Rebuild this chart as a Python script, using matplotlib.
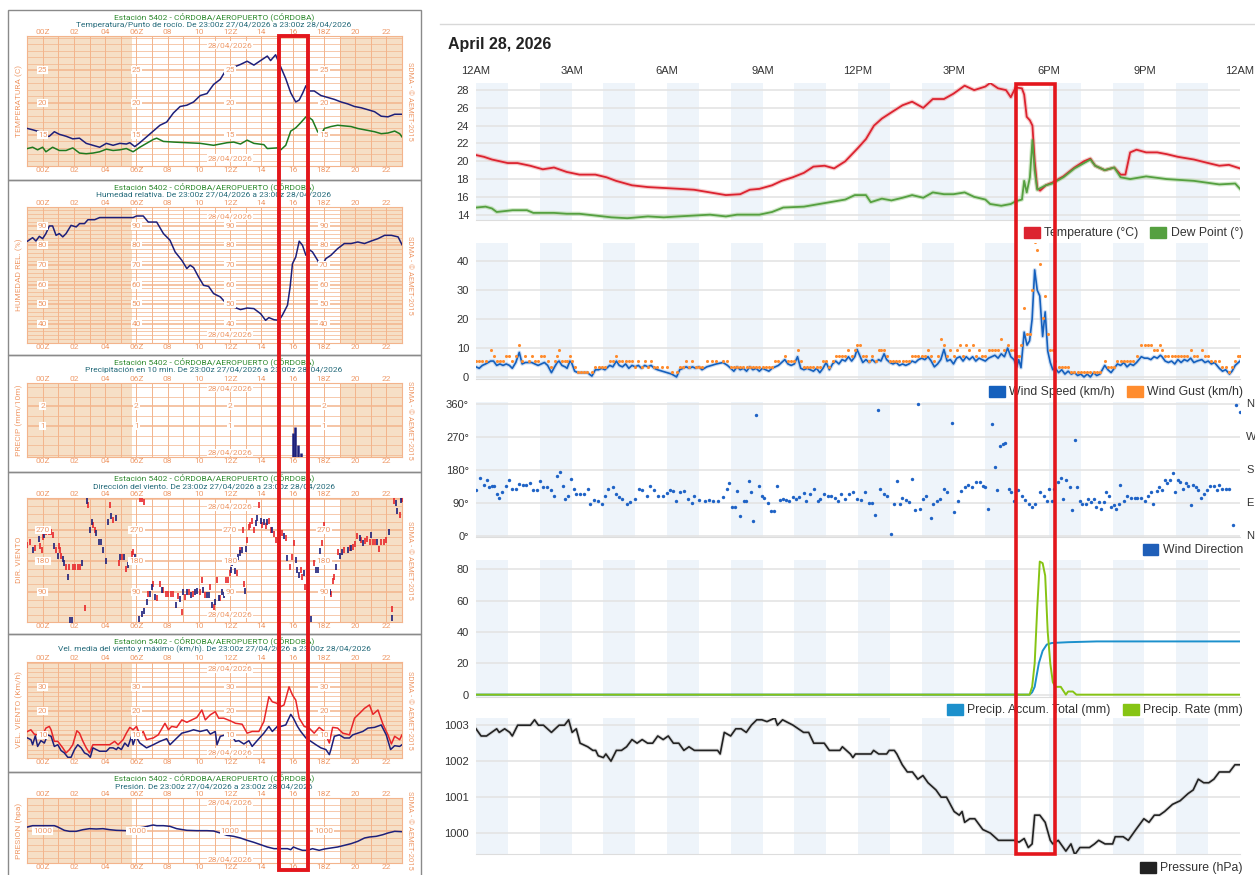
import matplotlib
matplotlib.use("Agg")
import matplotlib.pyplot as plt
import matplotlib.font_manager as fm
from matplotlib.patches import Rectangle, Patch

avail = {f.name for f in fm.fontManager.ttflist}
NARROW = "Liberation Sans Narrow" if "Liberation Sans Narrow" in avail else "Roboto"
SANS = "Liberation Sans"
plt.rcParams["font.family"] = [SANS, "DejaVu Sans"]

# ===================== DATA: right side (local time, hours) =====================
TEMP_T = [0.00, 0.25, 0.50, 0.75, 1.00, 1.30, 1.70, 2.10, 2.45, 2.85, 3.25, 3.75, 4.10, 4.40, 4.90,
          5.40, 5.90, 6.40, 6.85, 7.35, 7.85, 8.30, 8.60, 8.90, 9.30, 9.60, 9.95, 10.30, 10.60, 10.95,
          11.25, 11.60, 12.00, 12.25, 12.50, 12.75, 13.05, 13.40, 13.70, 14.05, 14.35, 14.70, 15.00,
          15.35, 15.65, 16.00, 16.15, 16.40, 16.65, 16.80, 16.95, 17.15, 17.22, 17.30, 17.40, 17.48,
          17.55, 17.63, 17.72, 17.90, 18.10, 18.45, 18.80, 19.10, 19.30, 19.45, 19.75, 20.05, 20.25,
          20.40, 20.55, 20.75, 21.05, 21.40, 21.70, 22.05, 22.55, 23.00, 23.35, 23.65, 24.00]
TEMP_V = [20.7, 20.5, 20.2, 20.0, 19.8, 19.8, 19.5, 19.1, 19.3, 18.8, 18.5, 18.5, 18.2, 17.8, 17.3,
          17.1, 17.0, 16.9, 16.8, 16.5, 16.2, 16.3, 16.8, 16.9, 17.3, 17.8, 18.2, 18.7, 19.4, 19.5,
          19.2, 20.0, 21.5, 22.5, 24.0, 24.8, 25.5, 26.3, 26.7, 26.0, 27.0, 27.0, 27.6,
          28.5, 28.0, 28.4, 28.8, 28.2, 28.0, 27.2, 28.3, 28.2, 27.5, 25.0, 24.6, 24.0,
          20.0, 17.0, 16.7, 17.3, 17.6, 18.3, 19.3, 20.0, 20.3, 19.5, 19.0, 19.3, 18.5,
          18.5, 21.0, 21.3, 21.0, 21.0, 20.8, 20.5, 20.2, 19.8, 19.5, 19.6, 19.2]

DEW_T = [0.00, 0.30, 0.50, 0.65, 1.15, 1.60, 1.80, 2.45, 2.85, 3.25, 3.75, 4.25, 4.75, 5.40, 5.90,
         6.35, 6.85, 7.35, 7.85, 8.20, 8.90, 9.30, 9.65, 10.30, 10.95, 11.60, 11.90, 12.25, 12.40,
         12.75, 13.05, 13.40, 13.70, 14.05, 14.35, 14.70, 15.00, 15.35, 15.65, 16.00, 16.15, 16.50,
         16.80, 16.95, 17.15, 17.22, 17.30, 17.40, 17.48, 17.55, 17.63, 17.90, 18.10, 18.45, 18.80,
         19.10, 19.30, 19.45, 19.75, 20.05, 20.25, 20.55, 21.05, 21.70, 22.55, 23.35, 23.85, 24.00]
DEW_V = [14.8, 14.9, 14.7, 14.3, 14.5, 14.5, 14.2, 14.2, 14.1, 14.1, 13.9, 13.7, 13.6, 13.8, 13.7,
         13.8, 13.9, 14.0, 13.8, 14.0, 14.0, 14.3, 14.8, 14.9, 15.3, 15.7, 16.2, 16.2, 15.4,
         15.8, 15.6, 15.9, 16.2, 15.9, 16.5, 16.3, 16.3, 16.5, 16.0, 15.7, 15.2, 15.0,
         15.2, 15.5, 15.7, 17.8, 16.5, 18.2, 22.4, 19.0, 16.8, 17.3, 17.5, 18.2, 19.2,
         19.8, 20.2, 19.5, 19.0, 19.3, 18.2, 18.0, 18.3, 18.0, 17.8, 17.4, 17.5, 16.9]

WIND_T = [0.00, 0.10, 0.20, 0.30, 0.46, 0.55, 0.65, 0.75, 0.85, 0.95, 1.05, 1.14, 1.25, 1.36, 1.45,
          1.55, 1.65, 1.75, 1.85, 1.95, 2.05, 2.15, 2.25, 2.37, 2.47, 2.55, 2.61, 2.70, 2.80, 2.86,
          2.95, 3.00, 3.10, 3.20, 3.30, 3.40, 3.50, 3.64, 3.75, 3.85, 3.95, 4.05, 4.20, 4.30, 4.41,
          4.50, 4.60, 4.70, 4.80, 4.90, 5.00, 5.10, 5.20, 5.30, 5.40, 5.50, 5.60, 5.70, 5.85, 6.00,
          6.15, 6.30, 6.40, 6.50, 6.60, 6.70, 6.80, 6.90, 7.00, 7.10, 7.25, 7.40, 7.55, 7.76, 7.90,
          8.00, 8.10, 8.20, 8.30, 8.40, 8.50, 8.60, 8.70, 8.80, 8.90, 9.00, 9.10, 9.20, 9.30, 9.40,
          9.50, 9.70, 9.80, 9.90, 10.00, 10.10, 10.20, 10.30, 10.40, 10.50, 10.60, 10.70, 10.80,
          10.90, 11.00, 11.10, 11.20, 11.30, 11.40, 11.50, 11.60, 11.70, 11.80, 11.90, 11.97, 12.05,
          12.15, 12.25, 12.35, 12.45, 12.55, 12.65, 12.72, 12.82, 12.90, 13.00, 13.10, 13.20, 13.30,
          13.40, 13.50, 13.60, 13.70, 13.80, 13.90, 14.00, 14.10, 14.20, 14.30, 14.40, 14.50, 14.60,
          14.70, 14.80, 14.90, 15.00, 15.10, 15.20, 15.30, 15.40, 15.50, 15.60, 15.70, 15.80, 15.90,
          16.00, 16.10, 16.20, 16.30, 16.40, 16.50, 16.60, 16.70, 16.80, 16.90, 16.99, 17.05, 17.12,
          17.22, 17.31, 17.39, 17.47, 17.55, 17.63, 17.71, 17.80, 17.88, 17.96, 18.04, 18.12, 18.20,
          18.30, 18.40, 18.50, 18.60, 18.70, 18.80, 18.90, 19.00, 19.10, 19.20, 19.30, 19.40, 19.50,
          19.60, 19.75, 19.85, 19.95, 20.05, 20.15, 20.25, 20.35, 20.45, 20.55, 20.65, 20.75, 20.90,
          21.00, 21.10, 21.20, 21.30, 21.40, 21.50, 21.55, 21.65, 21.75, 21.85, 21.95, 22.05, 22.15,
          22.25, 22.35, 22.45, 22.55, 22.65, 22.80, 22.90, 23.00, 23.10, 23.20, 23.35, 23.45, 23.55,
          23.67, 23.75, 23.85, 23.95, 24.00]
WIND_V = [3.5, 3.0, 4.0, 4.5, 5.5, 5.5, 4.0, 4.5, 4.0, 4.5, 4.0, 3.0, 5.0, 8.5, 4.5,
          5.0, 5.0, 5.0, 4.5, 4.0, 4.5, 5.0, 4.0, 1.5, 3.5, 5.0, 5.5, 4.0, 3.5, 3.0,
          5.5, 5.0, 2.0, 1.5, 1.5, 1.5, 1.5, 0.3, 2.5, 2.5, 3.0, 2.5, 4.0, 3.5, 5.5,
          4.0, 3.5, 4.5, 3.0, 4.0, 3.5, 4.0, 3.0, 4.0, 3.5, 4.0, 3.0, 2.5, 2.0, 1.5,
          1.0, 0.0, 2.5, 3.0, 3.5, 3.0, 3.5, 3.0, 3.5, 2.5, 3.5, 4.0, 4.5, 5.0, 4.0,
          3.0, 2.0, 3.5, 2.5, 3.0, 2.0, 3.5, 2.5, 3.0, 2.0, 3.0, 2.5, 2.0, 3.0, 3.5,
          4.0, 6.0, 4.5, 4.0, 4.5, 7.0, 3.0, 2.5, 3.0, 2.5, 2.0, 3.0, 1.5,
          3.0, 5.0, 2.5, 4.5, 5.5, 4.5, 6.0, 5.5, 7.0, 5.5, 7.0, 9.5, 7.5,
          5.0, 6.0, 5.0, 6.0, 5.0, 6.0, 5.5, 8.0, 6.0, 5.0, 4.5, 5.0, 4.0,
          4.5, 4.0, 4.5, 5.5, 5.0, 6.0, 6.5, 6.0, 7.0, 5.5, 3.5, 4.5, 6.0,
          9.5, 5.5, 6.0, 4.5, 6.5, 7.0, 5.5, 7.0, 6.0, 7.0, 5.5, 6.5, 6.0,
          5.5, 6.5, 7.0, 7.5, 6.5, 8.0, 7.0, 10.0, 7.0, 6.0, 3.5, 6.0, 3.2,
          15.5, 11.0, 12.5, 20.0, 37.0, 30.0, 28.0, 14.0, 22.5, 9.0, 5.0, 2.5, 3.0,
          1.5, 2.5, 1.0, 2.0, 1.0, 1.5, 0.5, 1.0, 0.0, 1.0, 0.0, 1.5, 0.5,
          1.0, 4.0, 2.5, 1.5, 3.0, 4.5, 4.0, 5.0, 3.5, 4.5, 4.0, 5.0, 7.0,
          6.5, 6.5, 6.0, 7.0, 6.5, 7.5, 7.0, 5.5, 5.0, 5.5, 4.5, 6.0, 5.0,
          6.0, 5.5, 6.5, 5.0, 5.5, 6.0, 5.0, 5.5, 4.5, 5.0, 3.0, 2.0, 2.5,
          1.0, 2.0, 4.0, 5.0, 5.5]
GUST_V = [5.5, 5.5, 5.5, 5.5, 9.4, 7.4, 5.5, 5.5, 5.5, 7.4, 7.4, 5.5, 7.4, 11.2, 5.5,
          7.4, 5.5, 7.4, 5.5, 5.5, 7.4, 7.4, 5.5, 3.6, 5.5, 7.4, 9.4, 5.5, 5.5, 5.5,
          7.4, 5.5, 3.6, 1.8, 1.8, 1.8, 1.8, 1.8, 3.6, 3.6, 3.6, 3.6, 5.5, 5.5, 7.4,
          5.5, 5.5, 5.5, 5.5, 5.5, 3.6, 5.5, 3.6, 5.5, 3.6, 5.5, 3.6, 3.6, 3.6, 3.6,
          1.8, 1.8, 3.6, 3.6, 5.5, 3.6, 5.5, 3.6, 3.6, 3.6, 5.5, 5.5, 5.5, 5.5, 5.5,
          3.6, 3.6, 3.6, 3.6, 3.6, 3.6, 3.6, 3.6, 3.6, 3.6, 3.6, 3.6, 3.6, 3.6, 5.5,
          5.5, 7.4, 5.5, 5.5, 5.5, 9.4, 5.5, 3.6, 3.6, 3.6, 3.6, 3.6, 3.6,
          5.5, 5.5, 3.6, 5.5, 7.4, 7.4, 7.4, 7.4, 9.4, 7.4, 9.4, 11.2, 11.2,
          7.4, 7.4, 5.5, 7.4, 5.5, 9.4, 9.4, 9.4, 7.4, 5.5, 5.5, 5.5, 5.5,
          5.5, 5.5, 5.5, 7.4, 7.4, 7.4, 7.4, 7.4, 9.4, 7.4, 5.5, 7.4, 13.0,
          11.2, 7.4, 9.4, 7.4, 9.4, 11.2, 7.4, 11.2, 9.4, 11.2, 7.4, 9.4, 7.4,
          7.4, 9.4, 9.4, 9.4, 9.4, 13.0, 9.4, 11.2, 9.4, 9.4, 7.4, 7.4, 11.2,
          24.0, 15.0, 15.0, 30.0, 46.5, 44.0, 39.0, 20.5, 28.0, 15.0, 9.4, 9.4, 5.5,
          3.6, 3.6, 3.6, 3.6, 1.8, 1.8, 1.8, 1.8, 1.8, 1.8, 1.8, 1.8, 1.8,
          1.8, 5.5, 3.6, 3.6, 3.6, 5.5, 5.5, 5.5, 5.5, 5.5, 5.5, 7.4, 11.2,
          11.2, 11.2, 11.2, 9.4, 9.4, 11.2, 9.4, 7.4, 7.4, 7.4, 7.4, 7.4, 7.4,
          7.4, 7.4, 9.4, 7.4, 7.4, 9.4, 7.4, 7.4, 5.5, 5.5, 5.5, 3.6, 3.6,
          1.8, 3.6, 5.5, 7.4, 7.4]

WDIR_T = [0.00, 0.13, 0.24, 0.33, 0.41, 0.49, 0.57, 0.65, 0.73, 0.82, 0.93, 1.03, 1.14, 1.26, 1.36,
          1.47, 1.58, 1.71, 1.80, 1.93, 2.01, 2.12, 2.24, 2.37, 2.45, 2.53, 2.64, 2.73, 2.81, 2.89,
          2.97, 3.07, 3.15, 3.27, 3.40, 3.51, 3.59, 3.72, 3.84, 3.95, 4.05, 4.16, 4.29, 4.41, 4.49,
          4.60, 4.73, 4.85, 4.98, 5.11, 5.22, 5.36, 5.47, 5.58, 5.71, 5.88, 6.00, 6.09, 6.20, 6.29,
          6.40, 6.53, 6.66, 6.78, 6.86, 7.02, 7.18, 7.31, 7.45, 7.59, 7.76, 7.87, 7.95, 8.05, 8.13,
          8.21, 8.29, 8.41, 8.49, 8.57, 8.65, 8.70, 8.80, 8.88, 8.98, 9.06, 9.17, 9.27, 9.36, 9.47,
          9.55, 9.63, 9.75, 9.84, 9.96, 10.06, 10.16, 10.29, 10.38, 10.48, 10.61, 10.73, 10.82, 10.94,
          11.05, 11.15, 11.27, 11.36, 11.48, 11.59, 11.71, 11.84, 11.97, 12.08, 12.21, 12.33, 12.44,
          12.54, 12.62, 12.70, 12.82, 12.90, 13.03, 13.14, 13.22, 13.31, 13.39, 13.50, 13.60, 13.71,
          13.80, 13.88, 13.96, 14.04, 14.15, 14.29, 14.37, 14.48, 14.58, 14.69, 14.81, 14.94, 15.02,
          15.14, 15.23, 15.35, 15.46, 15.59, 15.71, 15.84, 15.92, 16.00, 16.08, 16.20, 16.29, 16.38,
          16.46, 16.54, 16.62, 16.73, 16.82, 16.90, 17.03, 17.14, 17.26, 17.36, 17.47, 17.55, 17.71,
          17.83, 17.93, 17.99, 18.09, 18.17, 18.29, 18.37, 18.45, 18.53, 18.65, 18.73, 18.81, 18.89,
          18.97, 19.05, 19.15, 19.23, 19.31, 19.40, 19.48, 19.56, 19.64, 19.72, 19.80, 19.89, 19.95,
          20.03, 20.11, 20.20, 20.24, 20.37, 20.46, 20.57, 20.69, 20.78, 20.90, 21.01, 21.11, 21.19,
          21.27, 21.39, 21.47, 21.55, 21.63, 21.71, 21.80, 21.88, 21.96, 22.04, 22.12, 22.20, 22.29,
          22.37, 22.45, 22.53, 22.61, 22.69, 22.78, 22.86, 22.97, 23.07, 23.18, 23.27, 23.35, 23.43,
          23.55, 23.67, 23.79, 23.89, 24.00]
WDIR_V = [125, 159, 140, 152, 133, 135, 135, 115, 104, 120, 135, 152, 127, 127, 141,
          138, 140, 143, 125, 125, 150, 133, 133, 125, 109, 163, 173, 135, 101, 110,
          154, 129, 115, 113, 113, 128, 88, 98, 96, 88, 109, 129, 133, 115, 106,
          101, 88, 92, 101, 129, 125, 109, 135, 125, 109, 109, 118, 125, 122, 95,
          120, 122, 101, 89, 109, 98, 96, 98, 96, 96, 106, 129, 144, 80, 80,
          123, 54, 96, 96, 150, 120, 41, 328, 137, 109, 104, 89, 68, 68, 135,
          98, 101, 98, 94, 106, 101, 106, 118, 96, 113, 129, 96, 101, 113,
          109, 109, 104, 94, 113, 101, 115, 120, 101, 98, 120, 89, 89,
          56, 344, 127, 113, 109, 6, 86, 149, 88, 104, 98, 92, 156,
          72, 360, 74, 101, 110, 48, 88, 96, 101, 129, 120, 307, 64,
          96, 123, 133, 138, 133, 147, 147, 135, 133, 74, 304, 189, 125,
          244, 251, 253, 127, 120, 96, 125, 109, 98, 88, 80, 88, 120,
          110, 96, 127, 94, 127, 147, 159, 101, 152, 133, 70, 262, 133,
          96, 86, 86, 101, 92, 101, 79, 92, 74, 92, 120, 109, 79,
          83, 74, 88, 140, 96, 109, 104, 104, 104, 104, 96, 109, 120,
          88, 122, 133, 125, 152, 143, 152, 172, 120, 152, 147, 129, 143,
          135, 85, 138, 133, 125, 104, 115, 125, 136, 135, 125, 138, 127,
          127, 127, 29, 356, 338]

PACC_T = [0.0, 17.39, 17.47, 17.55, 17.68, 17.80, 17.93, 18.09, 18.60, 19.50, 24.0]
PACC_V = [0.0, 0.0, 1.5, 5.0, 20.0, 28.0, 32.0, 33.0, 33.5, 34.0, 34.0]
PRATE_T = [0.0, 17.39, 17.47, 17.55, 17.63, 17.71, 17.80, 17.88, 17.96, 18.04, 18.12, 18.20,
           18.37, 18.53, 18.60, 18.75, 18.86, 24.0]
PRATE_V = [0.0, 0.0, 5.0, 20.0, 55.0, 85.0, 84.0, 76.0, 40.0, 20.0, 8.0, 5.0,
           5.0, 0.0, 2.0, 2.0, 0.0, 0.0]

PRES_T = [0.00, 0.16, 0.33, 0.49, 0.65, 0.73, 0.90, 1.06, 1.14, 1.31, 1.71, 1.84, 1.96, 2.12, 2.37,
          2.61, 2.78, 2.91, 3.02, 3.15, 3.27, 3.51, 3.67, 3.76, 3.84, 4.00, 4.08, 4.24, 4.41, 4.57,
          4.73, 4.90, 5.06, 5.22, 5.39, 5.55, 5.71, 5.88, 6.04, 6.20, 6.37, 6.53, 6.69, 6.86, 7.02,
          7.35, 7.59, 7.67, 7.80, 8.00, 8.16, 8.33, 8.49, 8.65, 8.82, 8.98, 9.14, 9.39, 9.47, 9.63,
          9.96, 10.29, 10.45, 10.61, 10.94, 11.10, 11.43, 11.51, 11.76, 11.84, 11.92, 12.41, 12.49,
          12.65, 12.90, 12.98, 13.14, 13.22, 13.39, 13.55, 13.71, 13.88, 14.04, 14.20, 14.45, 14.61,
          14.78, 15.02, 15.18, 15.27, 15.35, 15.51, 15.67, 15.92, 16.16, 16.41, 16.90, 17.06, 17.22,
          17.35, 17.47, 17.55, 17.71, 17.88, 18.04, 18.12, 18.29, 18.45, 18.53, 18.69, 18.81, 18.97,
          19.27, 19.43, 19.56, 19.76, 20.00, 20.08, 20.33, 20.49, 20.73, 20.98, 21.14, 21.31, 21.47,
          21.63, 21.88, 22.12, 22.37, 22.53, 22.69, 22.86, 23.02, 23.18, 23.35, 23.67, 23.84, 24.00]
PRES_V = [1002.9, 1002.7, 1002.7, 1002.8, 1002.9, 1002.8, 1002.9, 1002.8, 1002.7, 1003.0, 1003.0,
          1003.15, 1003.0, 1003.0, 1002.8, 1003.0, 1003.0, 1003.15, 1002.8, 1002.9, 1002.5, 1002.4,
          1002.3, 1002.3, 1002.15, 1002.1, 1002.2, 1002.0, 1002.3, 1002.3, 1002.4, 1002.6, 1002.5,
          1002.6, 1002.5, 1002.5, 1002.7, 1002.6, 1002.7, 1002.5, 1002.5, 1002.3, 1002.4, 1002.3,
          1002.3, 1002.3, 1002.3, 1002.2, 1002.8, 1002.7, 1002.9, 1002.9, 1002.8, 1003.0, 1003.15,
          1003.15, 1003.1, 1003.2, 1003.0, 1003.15, 1003.0, 1002.8, 1002.8, 1002.5, 1002.5, 1002.3,
          1002.3, 1002.4, 1002.2, 1002.1, 1002.2, 1002.2, 1002.3, 1002.2, 1002.2, 1002.3, 1002.3,
          1002.2, 1001.9, 1001.7, 1001.7, 1001.5, 1001.6, 1001.4, 1001.2, 1001.0, 1001.0, 1000.6,
          1000.5, 1000.6, 1000.3, 1000.4, 1000.4, 1000.1, 1000.0, 999.8, 999.8, 999.75, 999.85,
          999.6, 999.7, 1000.5, 1000.5, 1000.3, 999.8, 999.7, 999.8, 999.6, 999.5, 999.7, 999.4,
          999.6, 999.6, 999.7, 999.8, 999.7, 999.7, 999.9, 999.9, 999.8, 1000.1, 1000.4, 1000.3,
          1000.5, 1000.5, 1000.6, 1000.8, 1000.9, 1001.1, 1001.2, 1001.5, 1001.4, 1001.4, 1001.5,
          1001.7, 1001.7, 1001.9, 1001.9]

R_TICK_HOURS = [0, 3, 6, 9, 12, 15, 18, 21, 24]
R_TICK_LABELS = ["12AM", "3AM", "6AM", "9AM", "12PM", "3PM", "6PM", "9PM", "12AM"]
DIR_TICKS = [0, 90, 180, 270, 360]
DIR_LABELS = ["0°", "90°", "180°", "270°", "360°"]
DIR_CARDINALS = ["N", "E", "S", "W", "N"]
R_HIGHLIGHT = (16.97, 18.20)

# ===================== DATA: left side (UTC hours) =====================
L_TEMP_T = [-0.97, -0.64, -0.21, 0.11, 0.43, 0.75, 1.07, 1.5, 1.93, 2.36, 2.79, 3.22, 3.65, 4.08, 4.51,
            4.94, 5.36, 5.58, 5.9, 6.22, 6.65, 7.08, 7.51, 7.94, 8.37, 8.8, 9.23, 9.66, 10.09, 10.52,
            10.94, 11.37, 11.8, 12.23, 12.66, 13.09, 13.52, 13.95, 14.38, 14.59, 14.91, 15.24, 15.56,
            15.88, 16.2, 16.42, 16.63, 16.85, 17.06, 17.38, 17.81, 18.24, 18.67, 19.1, 19.53, 19.96,
            20.39, 20.82, 21.24, 21.67, 22.1, 22.53, 22.96]
L_TEMP_V = [16.0, 15.8, 15.5, 14.7, 14.8, 15.5, 15.1, 14.8, 14.4, 14.5, 13.7, 13.4, 13.1, 13.7, 13.4,
            13.7, 13.6, 13.8, 13.2, 13.8, 14.7, 15.6, 16.5, 17.0, 18.4, 19.4, 19.6, 20.1, 21.1, 21.4,
            22.8, 23.6, 25.3, 25.5, 25.9, 26.4, 25.8, 26.5, 27.2, 26.5, 27.4, 25.5, 23.7,
            21.5, 20.1, 20.4, 21.4, 22.6, 21.8, 21.8, 21.1, 20.8, 20.5, 20.1, 19.8, 19.4,
            19.2, 18.9, 18.6, 17.9, 17.8, 18.2, 18.2]
L_DEW_T = [-0.97, -0.64, -0.32, 0.0, 0.21, 0.64, 1.07, 1.5, 1.93, 2.36, 2.79, 3.22, 3.65, 4.08, 4.51,
           4.94, 5.36, 5.79, 6.22, 6.65, 7.08, 7.3, 7.73, 8.37, 9.23, 10.09, 10.94, 11.8, 12.23, 12.66,
           13.09, 13.52, 14.16, 14.38, 15.02, 15.24, 15.56, 15.88, 16.2, 16.52, 16.85, 17.06, 17.27,
           17.6, 17.81, 18.03, 18.45, 18.88, 19.31, 19.74, 20.17, 20.82, 21.24, 21.67, 22.1, 22.53,
           22.85, 23.0]
L_DEW_V = [12.9, 13.1, 12.7, 13.1, 12.4, 13.1, 12.6, 12.6, 13.0, 12.2, 12.1, 12.2, 12.4, 12.8, 12.6,
           12.7, 12.9, 12.4, 13.1, 13.7, 14.3, 14.5, 14.0, 13.9, 13.8, 13.7, 13.4, 13.8, 13.9, 13.6,
           14.2, 13.7, 13.5, 12.9, 13.0, 12.7, 13.4, 15.6, 16.1, 16.9, 17.8, 17.7, 17.3,
           15.5, 15.0, 16.0, 16.3, 16.5, 16.4, 16.3, 16.0, 15.7, 15.5, 15.2, 15.3, 15.6,
           15.2, 14.7]

L_HUM_T = [-0.97, -0.64, -0.43, -0.21, 0.0, 0.21, 0.43, 0.64, 0.86, 1.07, 1.29, 1.5, 1.82, 2.15, 2.36,
           2.68, 2.9, 3.33, 3.65, 4.72, 5.79, 6.01, 6.44, 6.76, 7.3, 7.73, 8.15, 8.48, 8.91, 9.23,
           9.44, 9.66, 9.98, 10.3, 10.62, 10.94, 11.37, 11.8, 12.23, 12.66, 13.09, 13.52, 13.95, 14.27,
           14.48, 14.81, 15.13, 15.34, 15.67, 15.84, 15.99, 16.2, 16.42, 16.63, 16.85, 17.06, 17.27,
           17.6, 17.81, 18.13, 18.45, 18.88, 19.31, 19.74, 20.17, 20.6, 21.03, 21.46, 21.89, 22.32,
           22.75, 23.0]
L_HUM_V = [82.2, 84.0, 82.3, 84.7, 83.5, 86.1, 90.0, 90.0, 85.2, 86.1, 84.4, 86.1, 90.3, 89.5, 91.2,
           91.2, 93.2, 93.2, 94.3, 94.3, 94.3, 95.1, 95.1, 92.0, 92.0, 86.1, 82.7, 76.7, 72.4, 68.2,
           69.9, 68.7, 63.9, 59.6, 59.1, 55.4, 53.7, 49.9, 48.5, 47.2, 48.0, 47.7, 45.1, 41.7,
           43.1, 42.0, 41.7, 44.3, 49.4, 58.8, 70.7, 74.1, 82.2, 80.1, 75.0, 77.9, 76.7,
           72.4, 68.7, 73.3, 75.0, 78.4, 81.0, 81.0, 81.8, 81.0, 82.3, 83.5, 85.2, 85.2,
           84.4, 80.4]

L_PRECIP_T = [16.03, 16.18, 16.37, 16.52]
L_PRECIP_V = [0.62, 0.92, 0.02, -0.40]

L_DIRMEAN_T = [-0.64, -0.26, 0.06, 0.75, 0.97, 1.29, 1.39, 1.61, 1.72, 1.85, 2.53, 2.85, 3.05, 3.18,
               3.43, 3.58, 3.71, 3.86, 4.03, 4.18, 4.36, 4.68, 4.98, 5.19, 5.47, 5.90, 6.18, 6.33,
               6.48, 6.65, 6.87, 6.97, 7.19, 7.62, 8.52, 8.80, 9.01, 9.23, 9.48, 9.72, 9.87, 10.26,
               10.52, 10.67, 10.84, 11.05, 11.27, 11.48, 11.59, 12.06, 12.12, 12.34, 12.49, 12.60,
               12.77, 12.94, 13.03, 13.63, 13.73, 13.95, 14.16, 14.38, 14.70, 15.45, 15.67, 16.20,
               16.31, 16.42, 16.70, 17.17, 17.49, 17.60, 17.75, 18.13, 18.41, 18.78, 19.03, 19.14,
               19.53, 19.74, 20.28, 20.49, 21.03, 21.42, 22.15, 22.36, 22.60, 22.70, 22.96]
L_DIRMEAN_V = [212, 243, 255, 223, 194, 184, 173, 134, 7, 7, 173, 353, 270, 291,
               260, 233, 233, 210, 180, 291, 311, 304, 192, 192, 168, 192, 12, 27,
               35, 61, 85, 105, 75, 95, 51, 68, 90, 90, 80, 90, 93, 95,
               80, 80, 51, 61, 71, 90, 80, 153, 173, 151, 192, 202,
               212, 93, 214, 290, 304, 294, 291, 291, 268, 253, 187, 182,
               153, 139, 144, 12, 153, 153, 207, 270, 90, 161, 194, 204,
               212, 216, 246, 231, 255, 233, 262, 15, 348, 323, 357]
L_DIRGUST_T = [-0.97, -0.82, -0.47, -0.17, -0.06, 0.00, 0.21, 0.39, 0.54, 0.69, 0.86, 1.03, 1.12,
               1.20, 1.50, 1.67, 1.93, 2.10, 2.25, 2.36, 2.70, 2.90, 3.22, 3.33, 4.29, 4.51, 4.87,
               5.09, 5.36, 5.69, 5.79, 6.01, 6.22, 6.33, 6.48, 6.76, 7.08, 7.30, 7.51, 7.73, 7.90,
               8.05, 8.20, 8.37, 8.65, 8.91, 9.12, 9.38, 9.61, 10.04, 10.19, 10.36, 10.73, 10.94,
               11.16, 11.37, 11.74, 11.87, 11.97, 12.23, 12.45, 12.66, 12.83, 12.88, 13.09, 13.20,
               13.30, 13.41, 13.52, 13.84, 14.06, 14.27, 14.48, 14.59, 14.81, 14.91, 15.34, 15.56,
               15.84, 15.99, 16.09, 16.52, 16.63, 16.78, 17.06, 17.38, 17.85, 17.98, 18.30, 18.45,
               18.56, 18.67, 18.88, 19.31, 19.64, 19.85, 20.00, 20.13, 20.39, 20.60, 20.77, 20.92,
               21.14, 21.29, 21.52, 21.67, 21.85, 21.99, 22.36, 22.49, 22.85, 23.00]
L_DIRGUST_V = [226, 233, 216, 223, 212, 249, 262, 262, 262, 255, 212, 223, 212,
               194, 161, 161, 161, 161, 161, 161, 43, 343, 285, 268, 343, 299, 175,
               190, 155, 200, 204, 180, 360, 360, 350, 85, 112, 73, 112, 95, 83,
               83, 83, 83, 77, 32, 75, 90, 85, 90, 124, 80, 105, 46,
               124, 71, 124, 124, 146, 182, 146, 212, 270, 112, 241, 278,
               285, 294, 270, 343, 285, 280, 294, 268, 258, 241, 260, 246,
               163, 192, 231, 153, 134, 105, 360, 175, 231, 285, 270, 85,
               122, 134, 204, 210, 216, 221, 229, 252, 241, 236, 243, 233,
               233, 233, 214, 233, 233, 241, 41, 353, 314, 360]

L_WMEAN_T = [-0.97, -0.75, -0.64, -0.47, -0.32, -0.11, 0.11, 0.32, 0.54, 0.75, 0.97, 1.18, 1.39, 1.61,
             1.82, 2.04, 2.25, 2.47, 2.68, 2.90, 3.05, 3.22, 3.43, 3.65, 4.08, 4.29, 4.51, 4.72, 4.83,
             5.04, 5.26, 5.47, 5.69, 5.79, 5.97, 6.22, 6.65, 7.08, 7.51, 7.94, 8.15, 8.48, 8.91, 9.33,
             9.66, 10.09, 10.52, 10.73, 11.05, 11.16, 11.37, 11.70, 12.02, 12.34, 12.55, 12.88, 13.20,
             13.41, 13.73, 14.16, 14.48, 14.70, 15.02, 15.24, 15.56, 15.88, 16.05, 16.31, 16.52, 16.85,
             17.17, 17.49, 17.81, 18.13, 18.35, 18.45, 18.67, 18.99, 19.31, 19.64, 19.85, 20.17, 20.49,
             20.82, 21.24, 21.67, 21.99, 22.27, 22.53, 22.85, 23.0]
L_WMEAN_V = [8.8, 8.1, 6.0, 9.7, 5.3, 7.7, 6.7, 10.1, 9.5, 5.3, 6.0, 3.6, 2.6, 0.8,
             0.8, 4.0, 6.0, 4.7, 2.6, 1.9, 0.8, 4.7, 4.0, 3.3, 3.3, 4.7, 4.7, 4.0, 4.9,
             4.0, 6.7, 5.3, 9.5, 6.0, 9.5, 6.7, 4.7, 6.0, 7.4, 8.5, 6.0, 8.1, 10.8, 11.5,
             12.2, 11.5, 12.2, 10.4, 11.5, 6.0, 9.5, 10.1, 10.8, 7.4, 7.7, 6.3, 7.7,
             5.3, 7.7, 10.8, 13.6, 11.5, 13.6, 13.6, 14.2, 18.6, 17.0, 13.6, 11.5, 8.8,
             7.4, 6.0, 4.7, 4.0, 1.9, 4.0, 9.5, 10.1, 8.8, 8.8, 10.1, 10.8, 11.5,
             12.9, 13.2, 14.2, 10.1, 4.0, 5.6, 5.3, 6.0]
L_WMAX_T = [-0.97, -0.75, -0.54, -0.32, 0.0, 0.21, 0.43, 0.54, 0.75, 0.97, 1.29, 1.50, 1.72, 1.93,
            2.19, 2.36, 2.58, 2.79, 3.00, 3.22, 3.65, 4.29, 4.61, 4.83, 5.15, 5.36, 5.58, 5.79, 6.01,
            6.22, 6.44, 6.65, 7.08, 7.40, 7.83, 8.05, 8.26, 8.58, 8.91, 9.23, 9.55, 9.87, 10.19,
            10.41, 10.73, 11.05, 11.27, 11.59, 12.02, 12.34, 12.77, 13.09, 13.41, 13.84, 14.16,
            14.48, 14.70, 14.98, 15.24, 15.45, 15.77, 15.99, 16.20, 16.42, 16.74, 17.06, 17.38,
            17.70, 18.03, 18.35, 18.56, 18.88, 19.21, 19.64, 19.96, 20.28, 20.60, 20.92, 21.14,
            21.46, 21.78, 22.10, 22.32, 22.53, 22.85, 23.0]
L_WMAX_V = [11.5, 12.2, 10.4, 10.1, 10.1, 12.9, 13.6, 12.2, 7.4, 7.4, 4.7, 2.6, 4.0, 6.0,
            11.8, 10.8, 7.4, 4.7, 2.6, 6.0, 6.0, 6.0, 7.4, 6.0, 8.1, 10.8, 13.2, 12.2, 13.6,
            10.1, 11.5, 8.1, 8.8, 10.1, 14.9, 12.2, 13.6, 13.2, 16.3, 15.3, 16.3, 17.3, 20.4,
            16.3, 18.4, 19.7, 17.0, 17.0, 15.9, 14.9, 14.5, 10.8, 11.5, 11.5, 15.6,
            25.9, 23.8, 23.2, 21.8, 22.5, 30.0, 26.6, 24.5, 17.0, 13.6, 12.9, 10.8,
            13.2, 11.5, 6.7, 13.2, 12.9, 10.8, 10.1, 17.0, 19.0, 21.1, 22.5, 18.6,
            20.4, 14.5, 10.1, 6.3, 9.5, 8.1, 10.1]

L_PRES_T = [-0.97, -0.64, 0.75, 0.97, 1.39, 1.72, 2.15, 2.58, 3.00, 3.43, 3.86, 4.29, 4.72, 5.36,
            5.69, 5.79, 6.44, 6.87, 7.08, 7.30, 7.73, 8.15, 8.58, 9.23, 9.87, 10.52, 10.94, 11.37,
            11.80, 12.23, 12.66, 13.09, 13.52, 13.95, 14.38, 14.81, 15.24, 15.67, 15.88, 16.05,
            16.31, 16.63, 16.95, 17.27, 17.70, 18.03, 18.45, 18.88, 19.31, 19.74, 20.17, 20.60,
            20.92, 21.35, 21.78, 22.10, 22.53, 22.96]
L_PRES_V = [1000.65, 1000.85, 1000.85, 1000.65, 1000.15, 1000.0, 1000.0, 1000.25, 1000.4, 1000.35,
            1000.4, 1000.25, 1000.15, 1000.1, 1000.1, 1000.4, 1000.6, 1000.85, 1000.95, 1000.85,
            1000.85, 1000.75, 1000.4, 1000.15, 1000.1, 1000.1, 1000.05, 999.75, 999.4, 999.25,
            999.0, 998.65, 998.35, 998.0, 997.65, 997.4, 997.4, 997.4, 997.25, 997.65, 997.4,
            997.15, 997.15, 997.4, 997.15, 997.35, 997.5, 997.65, 997.9, 998.15, 998.5, 999.0,
            999.15, 999.25, 999.5, 999.75, 1000.0, 999.95]

L_TICK_HOURS = [0, 2, 4, 6, 8, 10, 12, 14, 16, 18, 20, 22]
L_TICK_LABELS = ["00Z", "02", "04", "06Z", "08", "10", "12Z", "14", "16", "18Z", "20", "22"]
L_NIGHT = [(-1.0, 5.7), (19.05, 23.0)]
L_HIGHLIGHT = (15.1, 17.0)
STATION = "Estación 5402 - CÓRDOBA/AEROPUERTO (CÓRDOBA)"
PERIOD = "De 23:00z 27/04/2026 a 23:00z 28/04/2026"

# ===================== FIGURE =====================
W, H = 1255, 875
fig = plt.figure(figsize=(W / 100, H / 100), dpi=100)
fig.patch.set_facecolor("white")


def fx(px):
    return px / W


def fy(px):
    return 1 - px / H


def rect(x0, y0, x1, y1):
    return [fx(x0), fy(y1), fx(x1) - fx(x0), fy(y0) - fy(y1)]


ORANGE = "#ef9b6b"
GRID_O = "#f3b48c"
TAN = "#f6dfc6"
NAVY = "#1d1f7a"
GREEN_T = "#2f8a2f"
TEAL_T = "#246a7a"

LX0, LX1, BOX_X0, BOX_X1 = 27, 402, 8, 421

left_cfg = [
    dict(box=(10, 180), t1=16.5, t2=24.5, plot=(36, 166), sub="Temperatura/Punto de rocío. " + PERIOD,
         ylab="TEMPERATURA (C)", ylim=(10.2, 30.3), minor=1, major=[15, 20, 25]),
    dict(box=(180, 355), t1=186.5, t2=194.5, plot=(207, 343), sub="Humedad relativa. " + PERIOD,
         ylab="HUMEDAD REL. (%)", ylim=(30.1, 99.7), minor=2, major=[40, 50, 60, 70, 80, 90]),
    dict(box=(355, 472), t1=361.5, t2=370, plot=(383, 457), sub="Precipitación en 10 min. " + PERIOD,
         ylab="PRECIP (mm/10m)", ylim=(-0.6, 3.2), minor=0.5, major=[1, 2]),
    dict(box=(472, 634), t1=478, t2=486.5, plot=(498, 622), sub="Dirección del viento. " + PERIOD,
         ylab="DIR. VIENTO", ylim=(2.5, 362), minor=22.5, major=[90, 180, 270]),
    dict(box=(634, 772), t1=640.5, t2=649, plot=(662, 758), sub="Vel. media del viento y máximo (km/h). " + PERIOD,
         ylab="VEL. VIENTO (Km/h)", ylim=(0.5, 40.3), minor=2, major=[10, 20, 30]),
    dict(box=(772, 878), t1=778, t2=786.5, plot=(798, 863), sub="Presión. " + PERIOD,
         ylab="PRESION (hpa)", ylim=(995.25, 1005.0), minor=1, major=[1000]),
]

left_axes = []
for cfg in left_cfg:
    b0, b1 = cfg["box"]
    fig.add_artist(Rectangle((fx(BOX_X0), fy(b1)), fx(BOX_X1) - fx(BOX_X0), fy(b0) - fy(b1),
                             transform=fig.transFigure, fill=False, ec="#8a8a8a", lw=1.0, zorder=0))
    fig.text(fx(214), fy(cfg["t1"]), STATION, ha="center", va="center", color=GREEN_T,
             fontsize=6.0, family=[NARROW, "DejaVu Sans"])
    fig.text(fx(214), fy(cfg["t2"]), cfg["sub"], ha="center", va="center", color=TEAL_T,
             fontsize=6.0, family=[NARROW, "DejaVu Sans"])
    p0, p1 = cfg["plot"]
    ax = fig.add_axes(rect(LX0, p0, LX1, p1))
    ax.set_xlim(-1, 23)
    ax.set_ylim(*cfg["ylim"])
    for a, b in L_NIGHT:
        ax.axvspan(a, b, color=TAN, lw=0, zorder=0)
    for hh in range(-1, 24):
        ax.axvline(hh, color=GRID_O, lw=0.7, zorder=1)
    lo, hi = cfg["ylim"]
    step = cfg["minor"]
    k = int(lo // step) + 1
    while k * step < hi:
        v = k * step
        major = any(abs(v - m) < 1e-6 for m in cfg["major"])
        ax.axhline(v, color=GRID_O, lw=1.1 if major else 0.5, zorder=1)
        k += 1
    for m in cfg["major"]:
        for hh in [0, 6, 12, 18]:
            ax.text(hh, m, f"{m:g}", ha="center", va="center", fontsize=6, color=ORANGE, zorder=4,
                    family=[NARROW, "DejaVu Sans"],
                    bbox=dict(boxstyle="square,pad=0.12", fc="white", ec="none"))
    xt = ax.get_xaxis_transform()
    for yy in [0.93, 0.06]:
        ax.text(12, yy, "28/04/2026", transform=xt, ha="center", va="center", fontsize=6,
                color=ORANGE, zorder=4, family=[NARROW, "DejaVu Sans"],
                bbox=dict(boxstyle="square,pad=0.1", fc="white", ec="none"))
    ax.set_xticks(L_TICK_HOURS)
    ax.set_xticklabels(L_TICK_LABELS)
    ax.set_yticks([])
    ax.tick_params(axis="x", top=True, labeltop=True, bottom=True, labelbottom=True, length=0,
                   labelsize=6, labelcolor=ORANGE, pad=1)
    for lab in ax.get_xticklabels():
        lab.set_family([NARROW, "DejaVu Sans"])
    for s in ax.spines.values():
        s.set_color(GRID_O)
        s.set_linewidth(0.8)
    fig.text(fx(19), fy((p0 + p1) / 2), cfg["ylab"], rotation=90, ha="center", va="center",
             fontsize=6, color=ORANGE, family=[NARROW, "DejaVu Sans"])
    fig.text(fx(410), fy((p0 + p1) / 2), "SDMA - © AEMET-2015", rotation=-90, ha="center",
             va="center", fontsize=5.5, color=ORANGE, family=[NARROW, "DejaVu Sans"])
    left_axes.append(ax)

lt, lh, lp, ld, lw_, lpr = left_axes
lt.plot(L_TEMP_T, L_TEMP_V, color=NAVY, lw=1.1, zorder=3)
lt.plot(L_DEW_T, L_DEW_V, color="#1f7a1f", lw=1.1, zorder=3)
lh.plot(L_HUM_T, L_HUM_V, color=NAVY, lw=1.1, zorder=3)
lp.vlines(L_PRECIP_T, lp.get_ylim()[0], L_PRECIP_V, color=NAVY, lw=1.8, zorder=3)
ld.plot(L_DIRGUST_T, L_DIRGUST_V, ls="none", marker="|", ms=3.8, mew=1.2, color="#e8262a", zorder=3)
ld.plot(L_DIRMEAN_T, L_DIRMEAN_V, ls="none", marker="|", ms=3.8, mew=1.2, color=NAVY, zorder=3)
lw_.plot(L_WMAX_T, L_WMAX_V, color="#e8262a", lw=1.1, zorder=3)
lw_.plot(L_WMEAN_T, L_WMEAN_V, color=NAVY, lw=1.1, zorder=3)
lpr.plot(L_PRES_T, L_PRES_V, color=NAVY, lw=1.1, zorder=3)

# ----- right side -----
fig.add_artist(plt.Line2D([fx(440), fx(1255)], [fy(24), fy(24)], transform=fig.transFigure,
                          color="#d8d8d8", lw=1))
fig.text(fx(448), fy(45), "April 28, 2026", ha="left", va="center", fontsize=11.5,
         fontweight="bold", color="#222222")

RX0, RX1 = 476, 1240
right_geom = [(83, 220), (243, 379), (402, 537), (560, 697), (718, 854)]
legend_y = [233, 392, 550, 710, 868]
right_axes = []
for (p0, p1) in right_geom:
    ax = fig.add_axes(rect(RX0, p0, RX1, p1))
    ax.set_xlim(0, 24)
    for hh in range(0, 24, 2):
        ax.axvspan(hh, hh + 1, color="#eef4fa", lw=0, zorder=0)
    for s in ["top", "right", "left"]:
        ax.spines[s].set_visible(False)
    ax.spines["bottom"].set_color("#dddddd")
    ax.set_xticks([])
    ax.yaxis.grid(True, color="#e4e4e4", lw=1.2, zorder=1)
    ax.set_axisbelow(True)
    ax.tick_params(axis="y", length=0, labelsize=8, labelcolor="#333333", pad=5)
    right_axes.append(ax)

rt, rw, rd, rp, rpr = right_axes

# temperature
rt.set_ylim(13.4, 28.8)
rt.set_yticks(range(14, 29, 2))
rt.plot(TEMP_T, TEMP_V, color="#f0a0a0", lw=3.0, alpha=0.55, zorder=2)
rt.plot(TEMP_T, TEMP_V, color="#dc2330", lw=1.3, zorder=3)
rt.plot(DEW_T, DEW_V, color="#a9d39a", lw=3.0, alpha=0.55, zorder=2)
rt.plot(DEW_T, DEW_V, color="#55a040", lw=1.3, zorder=3)
top = rt.twiny()
top.set_xlim(0, 24)
top.set_xticks(R_TICK_HOURS)
top.set_xticklabels(R_TICK_LABELS)
top.tick_params(axis="x", length=0, labelsize=8, labelcolor="#333333", pad=5)
for s in top.spines.values():
    s.set_visible(False)

# wind
rw.set_ylim(-0.7, 46.3)
rw.set_yticks([0, 10, 20, 30, 40])
rw.plot(WIND_T, WIND_V, color="#9dbde6", lw=2.8, alpha=0.5, zorder=2)
rw.plot(WIND_T, WIND_V, color="#1560bd", lw=1.2, zorder=3)
rw.scatter(WIND_T, GUST_V, s=5, color="#ff8c2e", zorder=4, linewidths=0)

# direction
rd.set_ylim(-2.7, 364.5)
rd.set_yticks(DIR_TICKS)
rd.set_yticklabels(DIR_LABELS)
rd.scatter(WDIR_T, WDIR_V, s=6, color="#1f63c6", zorder=3, linewidths=0)
ytr = rd.get_yaxis_transform()
for v, lab in zip(DIR_TICKS, DIR_CARDINALS):
    rd.text(1.008, v, lab, transform=ytr, ha="left", va="center", fontsize=8, color="#333333",
            clip_on=False)

# precipitation
rp.set_ylim(-1.5, 86)
rp.set_yticks([0, 20, 40, 60, 80])
rp.plot(PACC_T, PACC_V, color="#1c90cc", lw=1.4, zorder=3)
rp.plot(PRATE_T, PRATE_V, color="#86c414", lw=1.4, zorder=3)

# pressure
rpr.set_ylim(999.42, 1003.2)
rpr.set_yticks([1000, 1001, 1002, 1003])
rpr.plot(PRES_T, PRES_V, color="#bbbbbb", lw=2.6, alpha=0.5, zorder=2)
rpr.plot(PRES_T, PRES_V, color="#222222", lw=1.2, zorder=3)

legend_items = [
    [("Temperature (°C)", "#dc2330"), ("Dew Point (°)", "#55a040")],
    [("Wind Speed (km/h)", "#1560bd"), ("Wind Gust (km/h)", "#ff8c2e")],
    [("Wind Direction", "#1f5fb8")],
    [("Precip. Accum. Total (mm)", "#1c90cc"), ("Precip. Rate (mm)", "#86c414")],
    [("Pressure (hPa)", "#222222")],
]
for ax, items, ly in zip(right_axes, legend_items, legend_y):
    handles = [Patch(facecolor=c, edgecolor=c, label=t) for t, c in items]
    ax.legend(handles=handles, loc="center right", bbox_to_anchor=(fx(1243), fy(ly)),
              bbox_transform=fig.transFigure, ncol=len(items), frameon=False, fontsize=8.8,
              handlelength=1.3, handleheight=1.0, handletextpad=0.35, columnspacing=1.0,
              borderaxespad=0, borderpad=0, labelcolor="#333333")

# ----- highlight rectangles -----
fig.canvas.draw()
RED = "#e3161c"
xa = lt.transData.transform((L_HIGHLIGHT[0], 0))[0] / W
xb = lt.transData.transform((L_HIGHLIGHT[1], 0))[0] / W
fig.add_artist(Rectangle((xa, fy(870)), xb - xa, fy(36) - fy(870), transform=fig.transFigure,
                         fill=False, ec=RED, lw=2.8, zorder=20))
xa = rt.transData.transform((R_HIGHLIGHT[0], 0))[0] / W
xb = rt.transData.transform((R_HIGHLIGHT[1], 0))[0] / W
fig.add_artist(Rectangle((xa, fy(854)), xb - xa, fy(84) - fy(854), transform=fig.transFigure,
                         fill=False, ec=RED, lw=2.6, zorder=20))

fig.savefig("out.png", dpi=100, facecolor="white")
